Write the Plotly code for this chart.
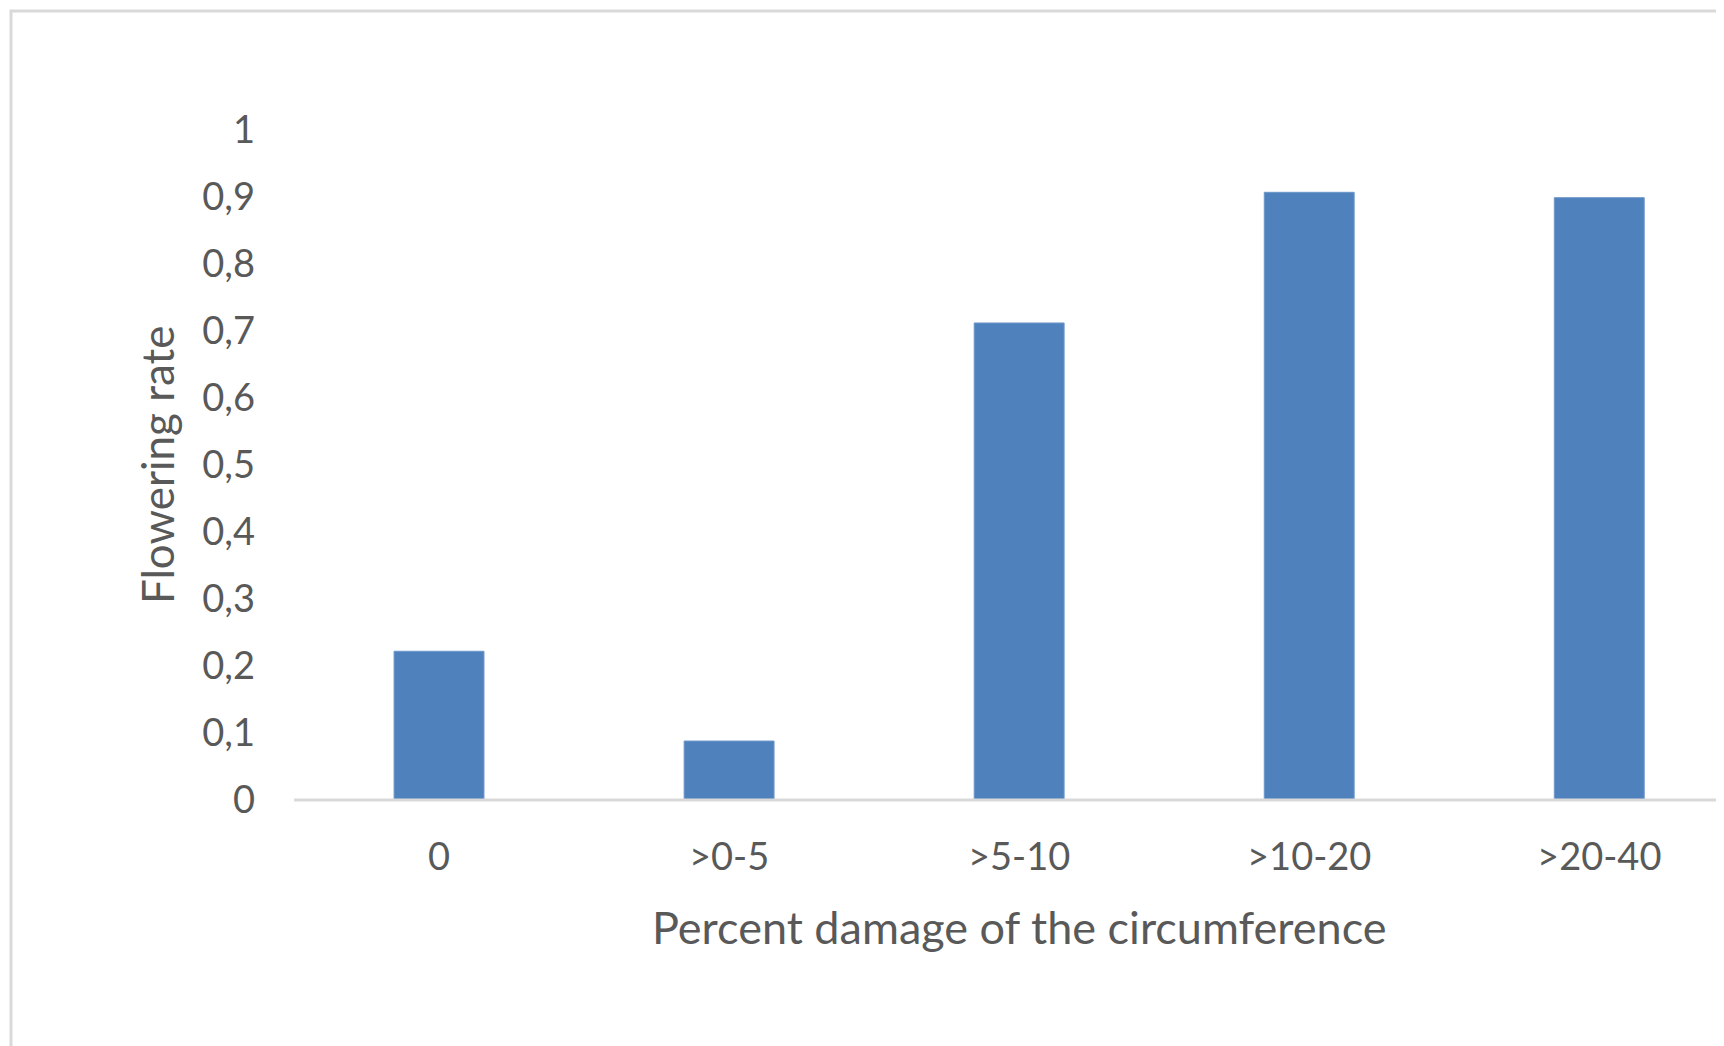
import plotly.graph_objects as go

categories = ["0", ">0-5", ">5-10", ">10-20", ">20-40"]
flowering_rate = [0.222, 0.088, 0.712, 0.907, 0.899]
y_tick_vals = [0, 0.1, 0.2, 0.3, 0.4, 0.5, 0.6, 0.7, 0.8, 0.9, 1]
y_tick_text = ["0", "0,1", "0,2", "0,3", "0,4", "0,5", "0,6", "0,7", "0,8", "0,9", "1"]
x_title = "Percent damage of the circumference"
y_title = "Flowering rate"

OFF = 8  # page body margin
W, H = 1724 - OFF, 1046 - OFF
L, R, T, B = 294 - OFF, 0, 130 - OFF, 246
pw = W - L - R
ph = H - T - B

def px_to_paper_x(px):
    return (px - OFF - L) / pw

def px_to_paper_y(py):
    return (H - B - (py - OFF)) / ph

text_color = "#595959"
font_family = "Lato, 'Open Sans', sans-serif"

fig = go.Figure()
fig.add_trace(go.Bar(
    x=categories,
    y=flowering_rate,
    marker=dict(color="#4F81BD", line=dict(color="#6F98CB", width=1)),
    showlegend=False,
))

fig.update_layout(
    width=W, height=H,
    margin=dict(l=L, r=R, t=T, b=B, pad=0),
    paper_bgcolor="white",
    plot_bgcolor="white",
    bargap=0.69,
    separators=",.",
    font=dict(family=font_family, color=text_color, size=38),
    xaxis=dict(
        type="category",
        range=[-0.5, 4.43],
        showgrid=False,
        showline=False,
        zeroline=False,
        ticks="",
        tickfont=dict(size=38, color=text_color),
        ticklabelstandoff=31,
        fixedrange=True,
    ),
    yaxis=dict(
        range=[0, 1],
        tickvals=y_tick_vals,
        ticktext=y_tick_text,
        showgrid=False,
        showline=False,
        zeroline=False,
        ticks="",
        tickfont=dict(size=38, color=text_color),
        ticklabelstandoff=38,
        fixedrange=True,
    ),
    shapes=[
        dict(type="line", xref="paper", yref="paper",
             x0=0, x1=1, y0=0, y1=0,
             line=dict(color="#D9D9D9", width=3), layer="above"),
        dict(type="rect", xref="paper", yref="paper",
             x0=px_to_paper_x(11), x1=px_to_paper_x(1800),
             y0=px_to_paper_y(1200), y1=px_to_paper_y(11),
             line=dict(color="#D9D9D9", width=3), fillcolor="rgba(0,0,0,0)"),
    ],
    annotations=[
        dict(text=x_title, xref="x", yref="paper", x=2, y=px_to_paper_y(927),
             xanchor="center", yanchor="middle", showarrow=False,
             font=dict(size=45, color=text_color)),
        dict(text=y_title, xref="paper", yref="paper", x=px_to_paper_x(157), y=0.5,
             xanchor="center", yanchor="middle", showarrow=False, textangle=-90,
             font=dict(size=44, color=text_color)),
    ],
)

fig.write_html("out.html")
